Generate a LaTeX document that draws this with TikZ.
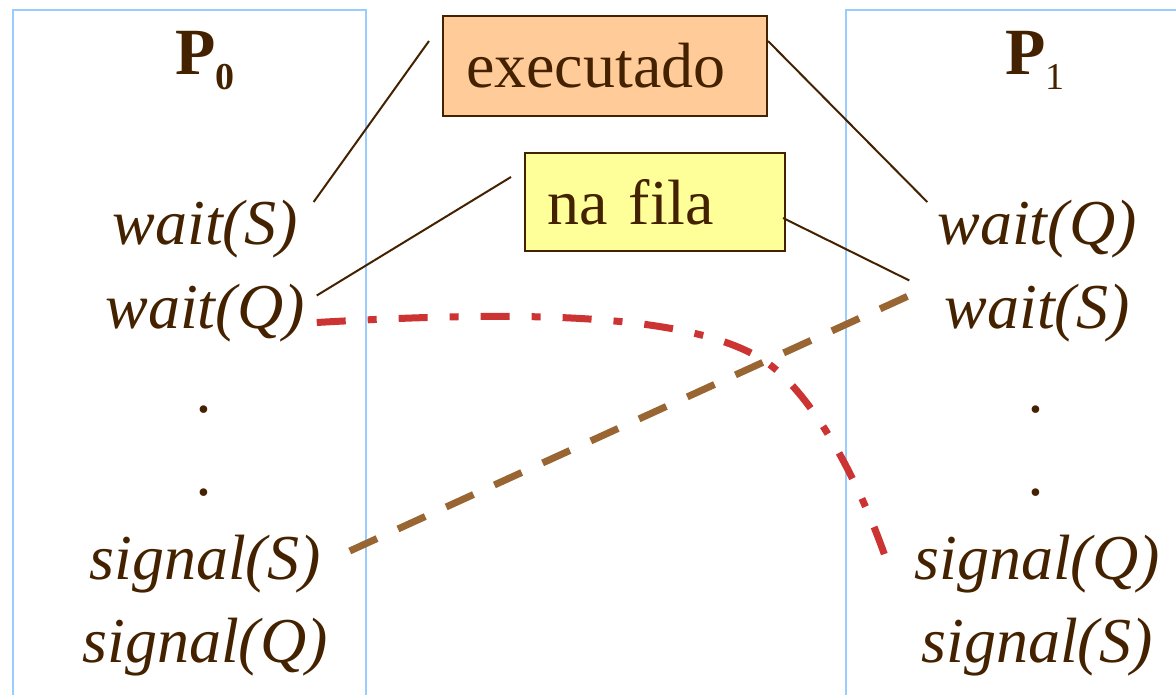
\documentclass[tikz,border=0pt]{standalone}
\usepackage{fontspec}
\setmainfont{Liberation Serif}
\definecolor{ink}{RGB}{68,34,0}
\definecolor{frameblue}{RGB}{153,204,255}
\definecolor{peach}{RGB}{255,204,153}
\definecolor{paleyellow}{RGB}{255,255,153}
\definecolor{semSbrown}{RGB}{153,102,51}
\definecolor{semQred}{RGB}{204,51,51}
\newcommand{\rowsep}{83.5}
\newcommand{\stmt}[4]{% name, x, row, text
    \node[codetxt] (#1) at (#2, 245 + #3*\rowsep) {#4};%
}
\tikzset{
    codetxt/.style={anchor=base, inner sep=0pt, text=ink,
        font=\fontsize{64}{64}\selectfont\itshape},
    head/.style={anchor=base, inner sep=0pt, text=ink,
        font=\fontsize{66}{66}\selectfont},
    tagbox/.style={draw=ink, line width=2pt, text=ink, align=left,
        inner ysep=0pt, font=\fontsize{64}{64}\selectfont},
    pointer/.style={draw=ink, line width=2pt},
    semS/.style={draw=semSbrown, line width=7pt, dash pattern=on 30pt off 23pt},
    semQ/.style={draw=semQred, line width=7pt,
        dash pattern=on 29pt off 22pt on 9pt off 22pt},
}

\begin{document}
\begin{tikzpicture}[x=1pt, y=-1pt]
        \useasboundingbox (0,0) rectangle (1176,695);

        % Process frames
        \draw[frameblue, line width=2pt] (13,700) -- (13,10) -- (366,10) -- (366,700);
        \draw[frameblue, line width=2pt] (1180,10) -- (846,10) -- (846,700);

        % Column Headers
        \node[head] (p0) at (205,75) {\textbf{P}\raisebox{-15pt}{\fontsize{38}{38}\selectfont\textbf{0}}};
        \node[head] (p1) at (1035,75) {\textbf{P}\raisebox{-15pt}{\fontsize{38}{38}\selectfont 1}};

        % --- P0 ---
        \stmt{ws0}{205}{0}{wait(S)}
        \stmt{wq0}{205}{1}{wait(Q)}
        \stmt{dota0}{205}{2}{.}
        \stmt{dotb0}{205}{3}{.}
        \stmt{ss0}{205}{4}{signal(S)}
        \stmt{sq0}{205}{5}{signal(Q)}

        % --- P1 ---
        \stmt{wq1}{1037}{0}{wait(Q)}
        \stmt{ws1}{1037}{1}{wait(S)}
        \stmt{dota1}{1037}{2}{.}
        \stmt{dotb1}{1037}{3}{.}
        \stmt{sq1}{1037}{4}{signal(Q)}
        \stmt{ss1}{1037}{5}{signal(S)}

        % Callouts
        \node[tagbox, fill=peach, text width=278pt, inner xsep=23pt,
            minimum height=100pt] (exec) at (605,66) {executado};
        \node[tagbox, fill=paleyellow, text width=216pt, inner xsep=22pt,
            minimum height=98pt] (queue) at (655,202) {na fila};

        \draw[pointer] ([shift={(16,-43)}]ws0.base east) -- ([shift={(-13,26)}]exec.north west);
        \draw[pointer] ([shift={(0,26)}]exec.north east) -- ([shift={(-10,-43)}]wq1.base west);
        \draw[pointer] ([shift={(12,-33)}]wq0.base east) -- ([shift={(-13,25)}]queue.north west);
        \draw[pointer] ([shift={(-3,16)}]queue.east) -- ([shift={(-35,-48)}]ws1.base west);

        % Deadlock paths
        \draw[semS] ([shift={(29,-28)}]ss0.base east) -- ([shift={(-35,-33)}]ws1.base west);
        \coordinate (bend) at (760,358);
        \draw[semQ] ([shift={(12,-6)}]wq0.base east) .. controls (500,312) and (680,310) .. (bend)
            .. controls (810,388) and (860,480) .. ([shift={(-24,-8)}]sq1.base west);

    \end{tikzpicture}
\end{document}
